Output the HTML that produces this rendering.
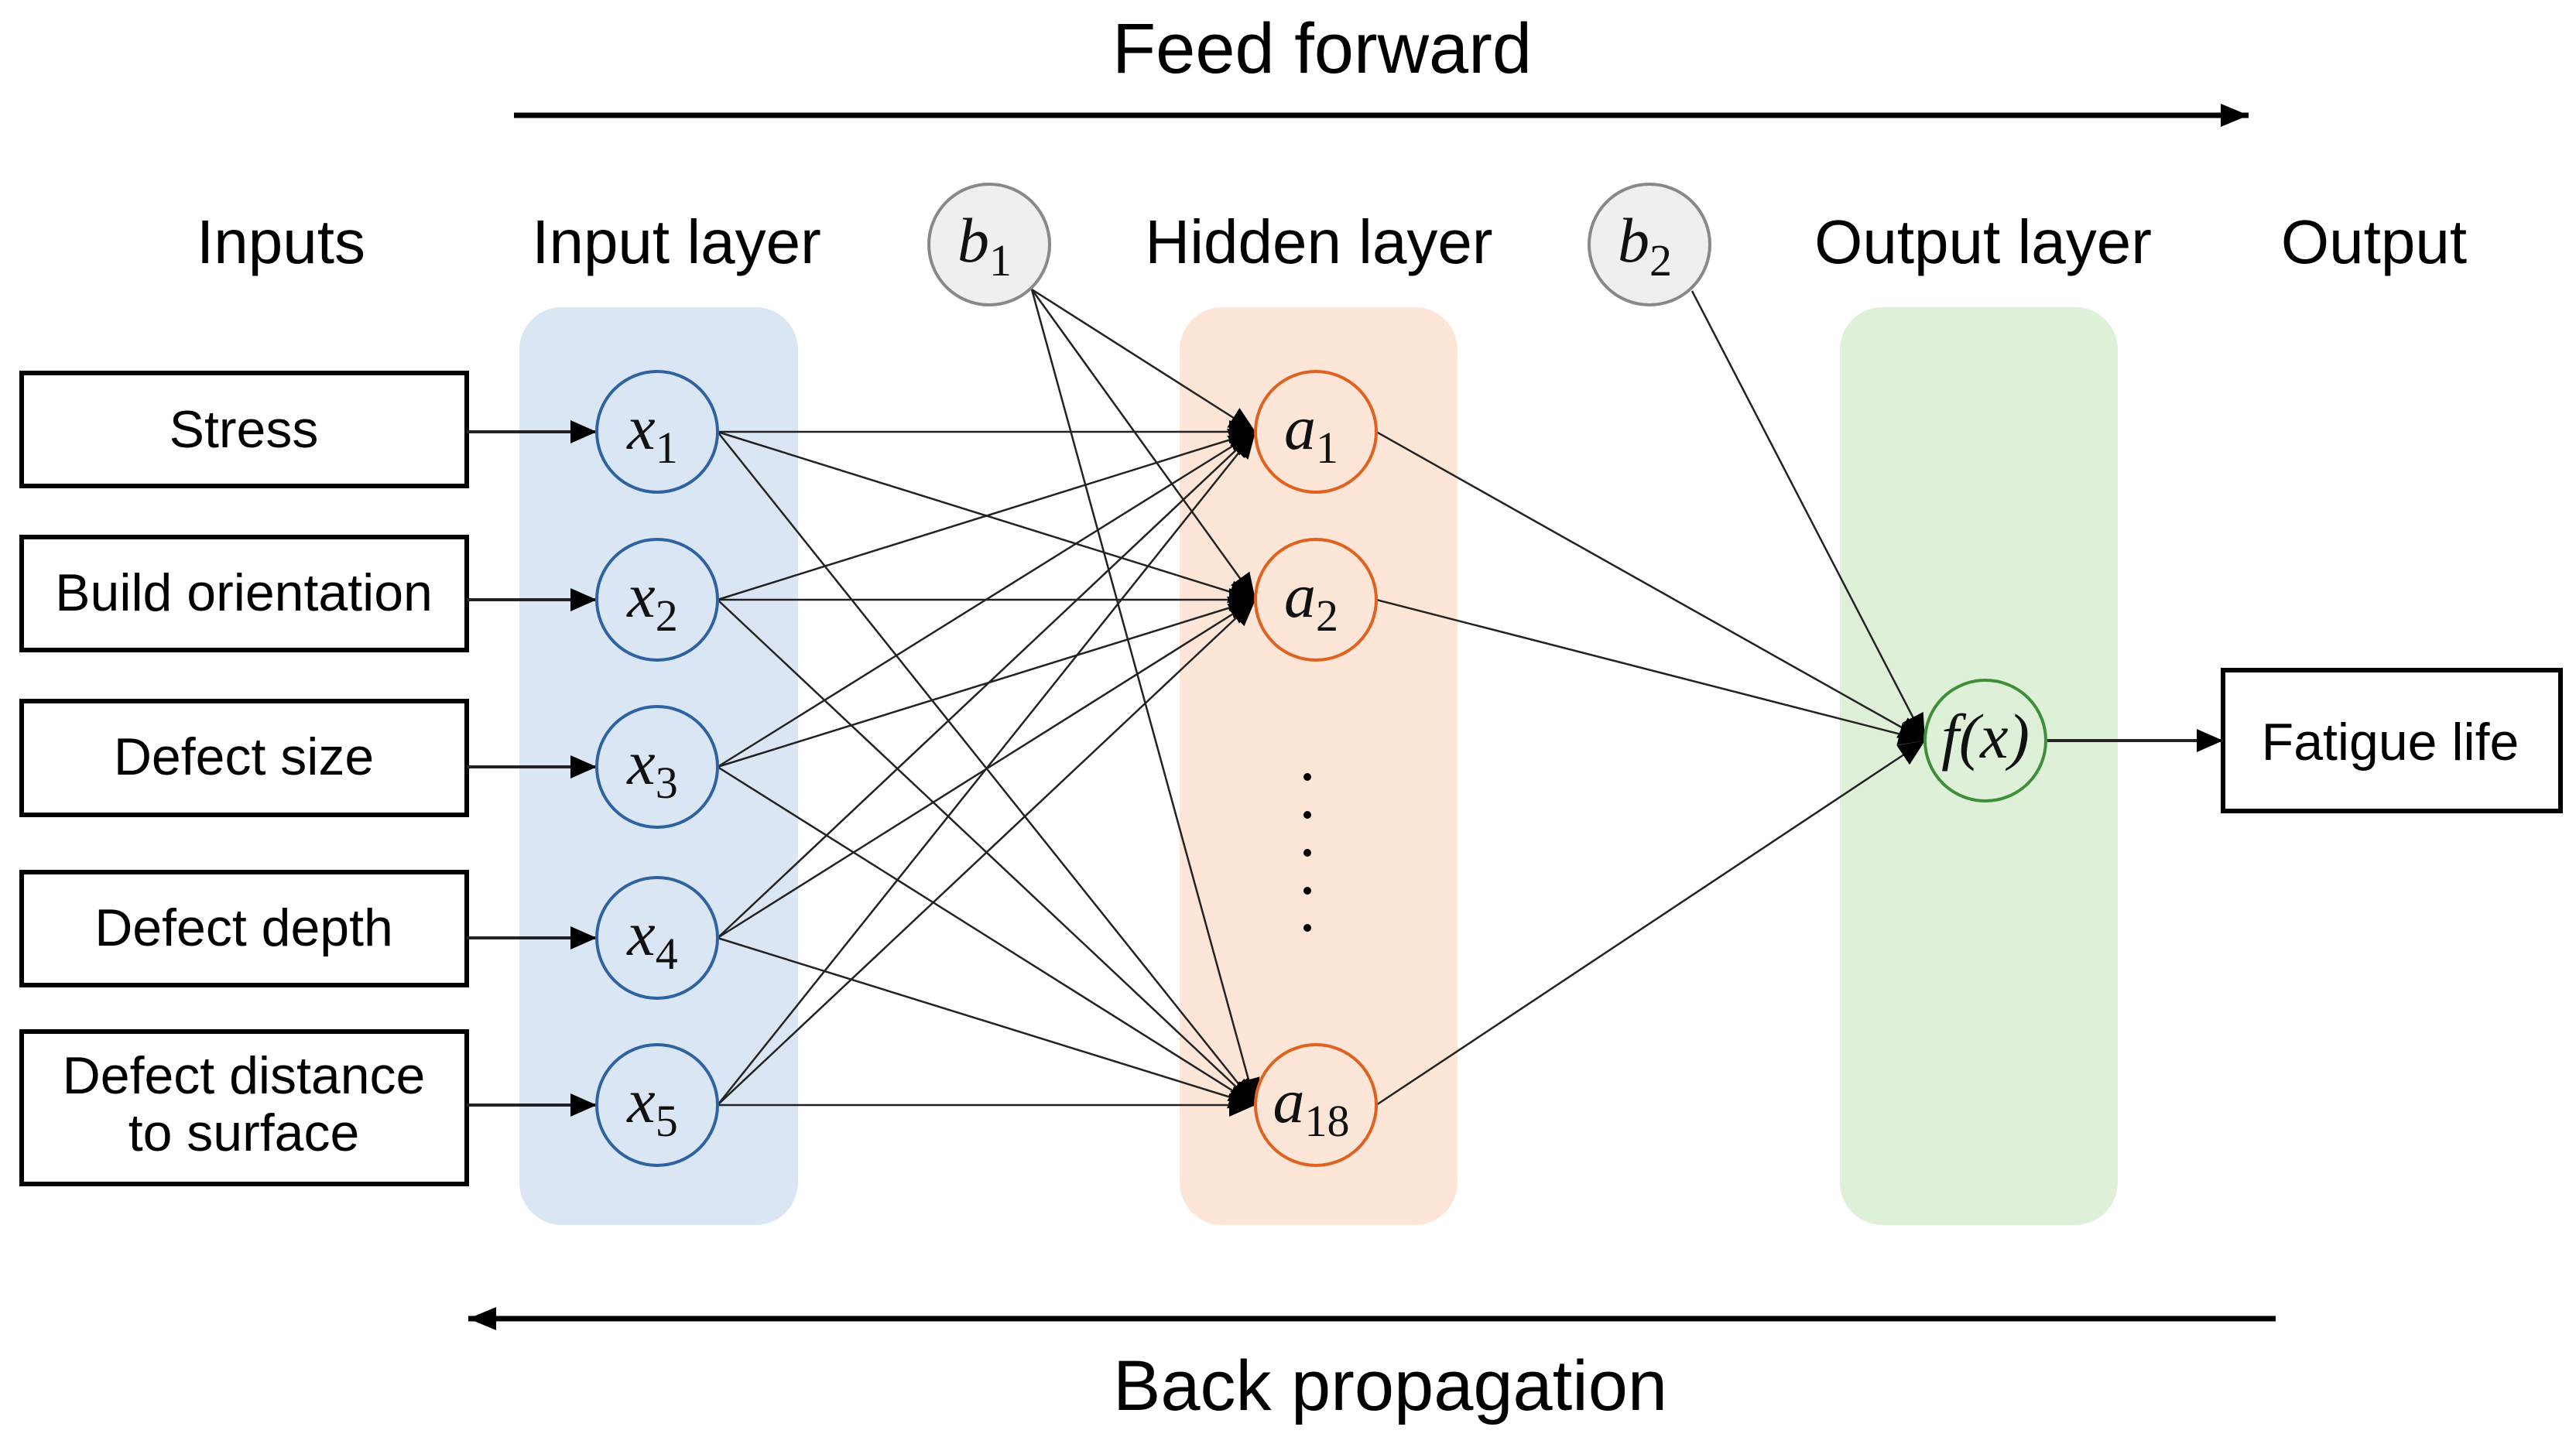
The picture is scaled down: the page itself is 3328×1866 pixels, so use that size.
<!DOCTYPE html>
<html><head><meta charset="utf-8"><style>
html,body{margin:0;padding:0;background:#fff;width:3328px;height:1866px;overflow:hidden}
svg{display:block}
.t{font-family:"Liberation Sans",sans-serif;fill:#000}
.m{font-family:"Liberation Serif",serif;font-style:italic;fill:#111}
.s{font-family:"Liberation Serif",serif;font-style:normal}
</style></head><body>
<svg id="g" width="3328" height="1866" viewBox="0 0 3328 1866" xmlns="http://www.w3.org/2000/svg">
<defs>
<marker id="ah" markerUnits="userSpaceOnUse" markerWidth="34" markerHeight="30" refX="34" refY="15" orient="auto"><path d="M0,0 L34,15 L0,30 z" fill="#000"/></marker>
<marker id="big" markerUnits="userSpaceOnUse" markerWidth="36" markerHeight="30" refX="36" refY="15" orient="auto"><path d="M0,0 L36,15 L0,30 z" fill="#000"/></marker>
</defs>
<text class="t" x="1708" y="94" font-size="92" text-anchor="middle">Feed forward</text>
<line x1="664" y1="149" x2="2905" y2="149" stroke="#000" stroke-width="7" marker-end="url(#big)"/>
<line x1="2940" y1="1704" x2="605" y2="1704" stroke="#000" stroke-width="7" marker-end="url(#big)"/>
<text class="t" x="1796" y="1822" font-size="92" text-anchor="middle">Back propagation</text>

<g class="t" font-size="80" text-anchor="middle">
<text x="363" y="340">Inputs</text>
<text x="874" y="340">Input layer</text>
<text x="1704" y="340">Hidden layer</text>
<text x="2562" y="340">Output layer</text>
<text x="3067" y="340">Output</text>
</g>

<rect x="671" y="397" width="360" height="1186" rx="55" fill="#dae6f4"/>
<rect x="1524" y="397" width="359" height="1186" rx="55" fill="#fde6d8"/>
<rect x="2377" y="397" width="359" height="1186" rx="55" fill="#dff0d9"/>

<g fill="none" stroke="#000" stroke-width="6">
<rect x="28" y="482" width="575" height="146" fill="#fff"/>
<rect x="28" y="694" width="575" height="146" fill="#fff"/>
<rect x="28" y="906" width="575" height="147" fill="#fff"/>
<rect x="28" y="1127" width="575" height="146" fill="#fff"/>
<rect x="28" y="1333" width="575" height="197" fill="#fff"/>
<rect x="2872" y="866" width="436" height="182" fill="#fff"/>
</g>
<g class="t" font-size="68" text-anchor="middle">
<text x="315" y="578">Stress</text>
<text x="315" y="789">Build orientation</text>
<text x="315" y="1001">Defect size</text>
<text x="315" y="1222">Defect depth</text>
<text x="315" y="1413">Defect distance</text>
<text x="315" y="1487">to surface</text>
<text x="3088" y="982">Fatigue life</text>
</g>
<g id="lines" stroke="#222" stroke-width="2.5"></g>
<g id="nodes"></g>
<g fill="#000">
<circle cx="1689" cy="1004" r="5"/><circle cx="1689" cy="1053" r="5"/><circle cx="1689" cy="1102" r="5"/><circle cx="1689" cy="1151" r="5"/><circle cx="1689" cy="1199" r="5"/>
</g>
</svg>
<script>
var NS="http://www.w3.org/2000/svg";
var L=document.getElementById("lines"),N=document.getElementById("nodes");
var R=78;
var xs=[558,775,991,1212,1428].map(function(y){return [849,y]});
var as=[[1700,558],[1700,775],[1700,1428]];
var b1=[1278,316],b2=[2131,316],f=[2565,957];
function seg(p,q,mk,w){
 var e=document.createElementNS(NS,"line");
 e.setAttribute("x1",p[0]);e.setAttribute("y1",p[1]);
 e.setAttribute("x2",q[0]);e.setAttribute("y2",q[1]);
 if(mk)e.setAttribute("marker-end","url(#ah)");
 if(w)e.setAttribute("stroke-width",w);
 L.appendChild(e);
}
xs.forEach(function(x){seg([603,x[1]],[x[0]-R,x[1]],true,4);});
xs.forEach(function(x){as.forEach(function(a){seg([x[0]+R,x[1]],[a[0]-R,a[1]],true);});});
as.forEach(function(a){seg([1333,374],[a[0]-R,a[1]],true);});
as.forEach(function(a){seg([a[0]+R,a[1]],[f[0]-R,f[1]],true);});
seg([2186,376],[f[0]-R,f[1]],true);
seg([f[0]+R,f[1]],[2872,f[1]],true,4);
function node(c,stroke,fill,label,sub){
 var e=document.createElementNS(NS,"circle");
 e.setAttribute("cx",c[0]);e.setAttribute("cy",c[1]);e.setAttribute("r",R);
 e.setAttribute("fill",fill);e.setAttribute("stroke",stroke);e.setAttribute("stroke-width",4);
 N.appendChild(e);
 var t=document.createElementNS(NS,"text");
 t.setAttribute("x",c[0]+(sub?-6:0));t.setAttribute("y",c[1]+22);t.setAttribute("class","m");
 t.setAttribute("font-size","82");t.setAttribute("text-anchor","middle");
 t.textContent=label;
 if(sub){var s=document.createElementNS(NS,"tspan");s.setAttribute("class","s");s.setAttribute("font-size","58");s.setAttribute("dy","18");s.textContent=sub;t.appendChild(s);}
 N.appendChild(t);
}
xs.forEach(function(x,i){node(x,"#2e62a0","none","x",""+(i+1));});
node(as[0],"#e0621e","none","a","1");
node(as[1],"#e0621e","none","a","2");
node(as[2],"#e0621e","none","a","18");
node(b1,"#888","#efefef","b","1");
node(b2,"#888","#efefef","b","2");
node(f,"#3f8f3a","none","f(x)",null);
</script>
</body></html>
